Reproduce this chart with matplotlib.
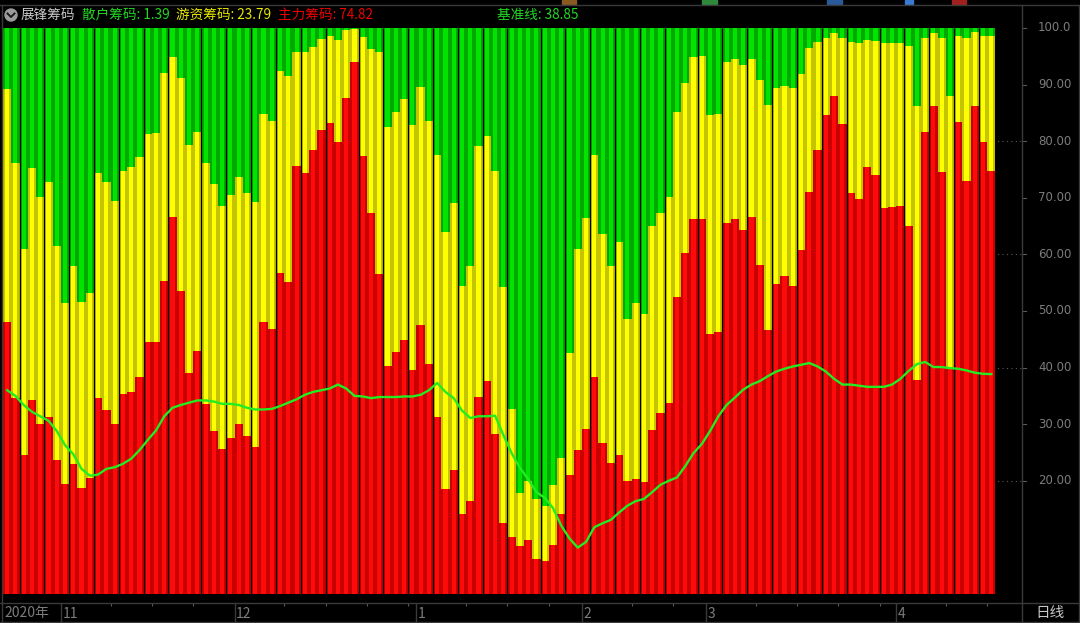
"""展锋筹码 chip-distribution chart (daily bars, Oct 2020 - Apr 2021)."""

import matplotlib

matplotlib.use("Agg")
import matplotlib.pyplot as plt
import numpy as np
from matplotlib.lines import Line2D
from matplotlib.patches import Circle, Rectangle
from matplotlib.transforms import IdentityTransform

plt.rcParams["font.family"] = ["Noto Sans CJK SC", "DejaVu Sans"]

# red level = 主力筹码 (top of red), yellow level = 主力 + 游资 (top of yellow); green fills to 100
main_level = [
    48.1, 34.7, 24.5, 34.2, 30.0, 31.3, 23.6, 19.5, 22.9, 18.8, 20.5, 34.7, 32.5, 30.0, 35.3, 35.7,
    38.3, 44.5, 44.5, 55.3, 66.6, 53.5, 39.1, 42.9, 33.6, 28.8, 25.7, 27.5, 30.0, 27.9, 26.0, 48.1,
    46.9, 56.7, 55.2, 75.6, 74.4, 78.5, 82.0, 83.2, 79.8, 87.6, 94.0, 77.4, 67.4, 56.6, 40.2, 42.7,
    44.8, 39.6, 47.6, 40.6, 31.2, 18.5, 21.9, 14.1, 16.4, 34.8, 37.6, 28.3, 12.6, 10.1, 8.5, 9.5,
    6.1, 5.9, 8.7, 14.1, 21.1, 25.4, 29.1, 38.3, 26.7, 23.1, 24.5, 20.0, 20.3, 19.8, 29.0, 31.9,
    33.7, 52.4, 60.3, 66.2, 66.2, 45.9, 46.3, 65.6, 66.2, 64.3, 66.6, 58.2, 46.6, 54.8, 56.2, 54.5,
    60.7, 71.0, 78.5, 84.6, 88.0, 83.0, 70.8, 69.8, 75.5, 74.0, 68.2, 68.4, 68.6, 65.0, 37.8, 81.6,
    86.3, 74.6, 39.9, 83.4, 73.0, 86.3, 79.8, 74.82,
]
hot_level = [
    89.3, 76.2, 60.9, 75.3, 70.2, 72.8, 61.4, 51.4, 58.0, 51.6, 53.1, 74.3, 72.8, 69.5, 74.8, 75.5,
    77.2, 81.3, 81.5, 92.1, 94.9, 91.2, 79.4, 81.6, 76.2, 72.4, 68.6, 70.5, 73.6, 70.8, 69.2, 84.8,
    83.6, 92.4, 91.6, 95.7, 95.7, 96.7, 98.0, 98.6, 97.8, 99.6, 99.9, 98.4, 96.3, 95.7, 82.5, 85.2,
    87.4, 82.9, 89.5, 83.6, 77.6, 64.0, 69.0, 54.5, 58.0, 79.2, 81.0, 74.8, 54.2, 32.7, 17.8, 19.9,
    16.7, 15.5, 19.2, 24.1, 42.5, 60.9, 66.4, 77.6, 63.6, 58.0, 62.2, 48.6, 51.4, 49.4, 65.0, 67.4,
    70.2, 85.2, 90.3, 94.9, 95.1, 84.6, 84.8, 94.0, 94.5, 93.5, 94.6, 90.8, 86.4, 89.4, 89.8, 89.4,
    91.8, 96.5, 97.6, 98.3, 99.1, 98.3, 97.5, 97.3, 97.8, 97.7, 97.3, 97.3, 97.3, 96.9, 86.3, 98.2,
    99.1, 98.2, 88.0, 98.6, 98.3, 99.3, 98.6, 98.61,
]
baseline = [
    36.0, 35.0, 33.4, 32.2, 31.4, 30.6, 28.8, 26.3, 24.7, 22.1, 20.9, 21.1, 22.1, 22.4, 23.0, 23.9,
    25.4, 27.2, 28.9, 31.4, 32.9, 33.4, 33.8, 34.2, 34.2, 34.0, 33.6, 33.6, 33.4, 32.9, 32.6, 32.6,
    32.7, 33.2, 33.8, 34.4, 35.2, 35.7, 36.0, 36.3, 37.0, 36.3, 35.0, 34.9, 34.6, 34.8, 34.8, 34.8,
    34.9, 34.9, 35.2, 36.0, 37.3, 35.7, 34.6, 32.4, 31.1, 31.4, 31.4, 31.5, 28.1, 24.9, 22.3, 20.3,
    18.0, 17.0, 15.2, 12.1, 9.8, 8.2, 9.2, 11.8, 12.5, 13.1, 14.4, 15.6, 16.4, 16.8, 18.0, 19.3,
    20.0, 20.6, 22.6, 24.9, 26.5, 28.8, 31.4, 33.4, 34.7, 36.1, 37.0, 37.6, 38.5, 39.3, 39.8, 40.2,
    40.5, 40.8, 40.2, 39.3, 38.0, 37.0, 37.0, 36.8, 36.6, 36.6, 36.6, 37.0, 38.0, 39.4, 40.6, 41.0,
    40.1, 40.1, 39.9, 39.8, 39.5, 39.1, 38.9, 38.85,
]

month_labels = ["11", "12", "1", "2", "3", "4"]
month_start = [7, 28, 50, 70, 85, 108]  # first bar index of each month
y_ticks = [100, 90, 80, 70, 60, 50, 40, 30, 20]
y_tick_labels = ["100.0", "90.00", "80.00", "70.00", "60.00", "50.00", "40.00", "30.00", "20.00"]

# black seams visible in the screenshot (bar index to the right of each seam)
seams = [2, 5, 8, 11, 14, 17, 20, 24, 27, 30, 33, 36, 39, 43, 46, 49, 52, 55, 58, 61, 65, 68,
         71, 74, 77, 80, 84, 87, 90, 93, 96, 99, 102, 106, 109, 112, 115, 118]

W, H = 1080, 623
PX_PER_BAR = 8.27
X0, X1 = -0.5 - 1 / PX_PER_BAR, -0.5 + 1019 / PX_PER_BAR
Y0, Y1 = -1.59, 104.06

GREY = "#3a3a3a"
LABEL_GREY = "#7c7c7c"

fig = plt.figure(figsize=(W / 100, H / 100), dpi=100, facecolor="black")


def px_axes(x0, y0, x1, y1):
    # box given in pixels measured from the top-left corner
    a = fig.add_axes([x0 / W, 1 - y1 / H, (x1 - x0) / W, (y1 - y0) / H])
    a.set_facecolor("black")
    for s in a.spines.values():
        s.set_visible(False)
    a.set_xticks([])
    a.set_yticks([])
    return a


# ---- main panel
ax = px_axes(2, 5, 1022, 603)
ax.set_xlim(X0, X1)
ax.set_ylim(Y0, Y1)

x = np.arange(len(main_level))
layers = [
    (np.full(len(x), 100.0), "#00a800", "#00e400"),
    (np.array(hot_level), "#c4c400", "#ffff00"),
    (np.array(main_level), "#c80000", "#ff0a0a"),
]
ax.hlines([20, 40, 60, 80], X0, X1, colors="#5a5a5a", linestyles=(0, (1, 3)), lw=0.8, zorder=0)
for heights, dark, light in layers:
    ax.bar(x, heights, width=1.0, color=dark, linewidth=0, antialiased=False, zorder=2)
    ax.bar(x, heights, width=0.5, color=light, linewidth=0, antialiased=False, zorder=2)
ax.vlines(np.array(seams) - 0.5, 0, 100, colors="black", lw=0.9, zorder=3)
ax.plot(x, baseline, color="#22ec22", lw=1.7, zorder=4)

# ---- right price scale
axr = px_axes(1022, 5, 1078, 603)
axr.set_ylim(Y0, Y1)
axr.set_xlim(0, 56)
for v, lab in zip(y_ticks, y_tick_labels):
    axr.plot([0, 4], [v, v], color="#5a5a5a", lw=0.8)
    axr.text(16, v, lab, color=LABEL_GREY, fontsize=8.5, family="DejaVu Sans",
             va="center", ha="left")

# ---- bottom date strip
axb = px_axes(2, 603, 1022, 623)
axb.set_xlim(X0, X1)
axb.set_ylim(0, 20)
axb.text(-0.35, 9.5, "2020年", color=LABEL_GREY, fontsize=10, va="center", ha="left")
for s, lab in zip(month_start, month_labels):
    axb.vlines(s - 0.5, 0, 20, colors=GREY, lw=1.0)
    axb.text(s - 0.3, 9.5, lab, color=LABEL_GREY, fontsize=10, va="center", ha="left")
bounds = month_start + [len(x)]
for a_, b_ in zip(bounds[:-1], bounds[1:]):
    for t in range(a_ + 5, b_ - 1, 5):
        axb.vlines(t + 0.5, 17, 20, colors="#5a5a5a", lw=0.8)

fig.text(1050 / W, 1 - 613 / H, "日线", color="#c8c8c8", fontsize=10.5, ha="center", va="center")

# ---- frame lines (pixel coords, origin bottom-left)
ident = IdentityTransform()
frame = [
    ([0, W], [H - 5, H - 5]),
    ([0, W], [H - 603, H - 603]),
    ([1022, 1022], [0, H - 5]),
    ([W - 1.5, W - 1.5], [0, H - 5]),
    ([1.5, 1.5], [0, H - 5]),
    ([0, W], [1, 1]),
]
for xs, ys in frame:
    fig.add_artist(Line2D(xs, ys, color=GREY, lw=1.0, transform=ident))

# clipped toolbar icons at the very top
for x0_, x1_, c in [(562, 576, "#8a5a22"), (702, 717, "#2e8a3a"), (827, 842, "#2a5a9a"),
                    (905, 913, "#3a7ad0"), (952, 966, "#a02020")]:
    fig.add_artist(Rectangle((x0_, H - 4), x1_ - x0_, 4, color=c, transform=ident))

# ---- header
fig.add_artist(Circle((11, H - 15), 6, color="#9c9c9c", transform=ident))
fig.add_artist(Line2D([7.5, 11, 14.5], [H - 13.5, H - 17, H - 13.5], color="#1a1a1a", lw=1.4,
                      transform=ident))
ty = 1 - 15 / H
header = [
    (21, "展锋筹码", "#c8c8c8"),
    (82, "散户筹码: 1.39", "#22d822"),
    (176, "游资筹码: 23.79", "#e8e800"),
    (278, "主力筹码: 74.82", "#ee0000"),
    (497, "基准线: 38.85", "#22d822"),
]
for hx, txt, col in header:
    fig.text(hx / W, ty, txt, color=col, fontsize=9.8, ha="left", va="center")

fig.savefig("out.png", dpi=100, facecolor="black")
